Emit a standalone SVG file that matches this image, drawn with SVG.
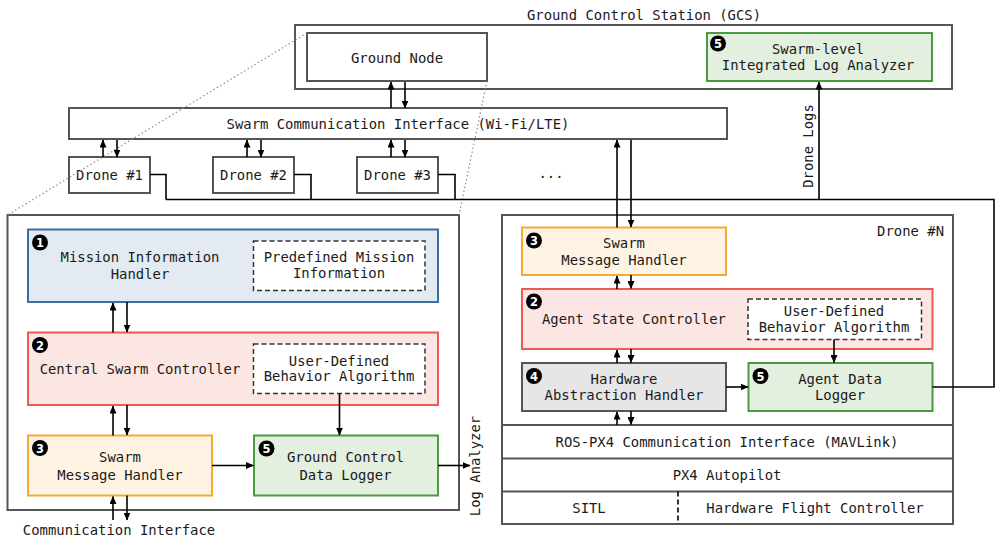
<svg xmlns="http://www.w3.org/2000/svg" width="995" height="541" viewBox="0 0 995 541">
<style>
text{font-family:"DejaVu Sans Mono","Liberation Mono",monospace;font-size:13.9px;fill:#1a1a1a;text-anchor:middle;dominant-baseline:central}
.box{fill:#fff;stroke:#555;stroke-width:2}
.dash{fill:#fff;stroke:#333;stroke-width:1.5;stroke-dasharray:5 3}
.blue{fill:#e3eaf1;stroke:#3b6fa4;stroke-width:2}
.red{fill:#fce6e4;stroke:#ee5a50;stroke-width:2}
.orange{fill:#fff3e3;stroke:#f7a835;stroke-width:2}
.green{fill:#e3efdf;stroke:#4a9a3e;stroke-width:2}
.gray{fill:#e6e6e6;stroke:#555;stroke-width:2}
.ln{fill:none;stroke:#000;stroke-width:1.6}
.arr{fill:none;stroke:#000;stroke-width:1.6;marker-end:url(#ah)}
.dot{fill:none;stroke:#a08585;stroke-width:1.2;stroke-dasharray:1.5 2.5}
.bc{fill:#000}
.bt{fill:#fff;font-family:"DejaVu Sans","Liberation Sans",sans-serif;font-size:11.5px;font-weight:bold}
</style>
<defs>
<marker id="ah" markerWidth="8" markerHeight="7" refX="7.5" refY="3.5" orient="auto" markerUnits="userSpaceOnUse">
<path d="M0,0 L8,3.5 L0,7 z" fill="#000"/>
</marker>
</defs>

<!-- GCS -->
<g id="gcs">
<text x="644" y="15">Ground Control Station (GCS)</text>
<rect class="box" x="295" y="25" width="657" height="64"/>
</g>
<g id="ground-node">
<rect class="box" x="307" y="33" width="180" height="48"/>
<text x="397" y="58">Ground Node</text>
</g>
<g id="log-analyzer">
<rect class="green" x="707" y="33" width="225" height="48"/>
<circle class="bc" cx="718" cy="43.5" r="8"/><text class="bt" x="718" y="44">5</text>
<text x="818" y="49">Swarm-level</text>
<text x="818" y="65">Integrated Log Analyzer</text>
</g>
<g id="swarm-comm">
<rect class="box" x="69" y="108" width="658" height="31"/>
<text x="398" y="124">Swarm Communication Interface (Wi-Fi/LTE)</text>
</g>
<g id="drone1"><rect class="box" x="69" y="157" width="81" height="36"/><text x="109.5" y="175">Drone #1</text></g>
<g id="drone2"><rect class="box" x="213" y="157" width="81" height="36"/><text x="253.5" y="175">Drone #2</text></g>
<g id="drone3"><rect class="box" x="357" y="157" width="81" height="36"/><text x="397.5" y="175">Drone #3</text></g>
<text x="551" y="173">...</text>

<!-- Left detail panel -->
<g id="ground-detail">
<rect class="box" x="7.5" y="215" width="451.5" height="295"/>
</g>
<g id="mission-handler">
<rect class="blue" x="28" y="229.5" width="410" height="72.5"/>
<circle class="bc" cx="40" cy="242.5" r="8"/><text class="bt" x="40" y="243">1</text>
<text x="140" y="257">Mission Information</text>
<text x="140" y="274">Handler</text>
<rect class="dash" x="253.5" y="241" width="171.5" height="49.5"/>
<text x="339" y="257">Predefined Mission</text>
<text x="339" y="273">Information</text>
</g>
<g id="central-controller">
<rect class="red" x="28" y="332.5" width="410" height="72.5"/>
<circle class="bc" cx="40" cy="345" r="8"/><text class="bt" x="40" y="345.5">2</text>
<text x="140" y="369">Central Swarm Controller</text>
<rect class="dash" x="253.5" y="344" width="171.5" height="49.5"/>
<text x="339" y="360.5">User-Defined</text>
<text x="339" y="376">Behavior Algorithm</text>
</g>
<g id="gcs-swarm-msg">
<rect class="orange" x="28" y="435.5" width="184" height="60"/>
<circle class="bc" cx="40" cy="448" r="8"/><text class="bt" x="40" y="448.5">3</text>
<text x="120" y="457">Swarm</text>
<text x="120" y="474.5">Message Handler</text>
</g>
<g id="gc-data-logger">
<rect class="green" x="254" y="435.5" width="184" height="60"/>
<circle class="bc" cx="266.5" cy="448.5" r="8"/><text class="bt" x="266.5" y="449">5</text>
<text x="345.5" y="457">Ground Control</text>
<text x="345.5" y="474.5">Data Logger</text>
</g>
<text x="119" y="530">Communication Interface</text>
<text transform="translate(475,466) rotate(-90)" x="0" y="0">Log Analyzer</text>

<!-- Drone N -->
<g id="droneN">
<rect class="box" x="502" y="215" width="451" height="309"/>
<text x="944" y="231" style="text-anchor:end">Drone #N</text>
<line class="box" x1="502" y1="425" x2="953" y2="425"/>
<line class="box" x1="502" y1="458.5" x2="953" y2="458.5"/>
<line class="box" x1="502" y1="491.5" x2="953" y2="491.5"/>
<line x1="678" y1="491.5" x2="678" y2="524" stroke="#000" stroke-width="1.6" stroke-dasharray="5 3"/>
<text x="727" y="441.5">ROS-PX4 Communication Interface (MAVLink)</text>
<text x="727" y="475">PX4 Autopilot</text>
<text x="589" y="508">SITL</text>
<text x="815" y="508">Hardware Flight Controller</text>
</g>
<g id="droneN-swarm-msg">
<rect class="orange" x="522" y="227.5" width="204" height="47.5"/>
<circle class="bc" cx="534" cy="240.5" r="8"/><text class="bt" x="534" y="241">3</text>
<text x="624" y="243">Swarm</text>
<text x="624" y="260">Message Handler</text>
</g>
<g id="agent-state">
<rect class="red" x="522" y="289" width="410.5" height="60"/>
<circle class="bc" cx="534" cy="301.5" r="8"/><text class="bt" x="534" y="302">2</text>
<text x="634" y="319">Agent State Controller</text>
<rect class="dash" x="748" y="299" width="173.5" height="40.5"/>
<text x="834" y="311">User-Defined</text>
<text x="834" y="327">Behavior Algorithm</text>
</g>
<g id="hw-abstraction">
<rect class="gray" x="522" y="363" width="204" height="48"/>
<circle class="bc" cx="534" cy="376" r="8"/><text class="bt" x="534" y="376.5">4</text>
<text x="624" y="379">Hardware</text>
<text x="624" y="395">Abstraction Handler</text>
</g>
<g id="agent-logger">
<rect class="green" x="748.5" y="363" width="184" height="48"/>
<circle class="bc" cx="760.5" cy="376" r="8"/><text class="bt" x="760.5" y="376.5">5</text>
<text x="840" y="379">Agent Data</text>
<text x="840" y="395">Logger</text>
</g>
<text transform="translate(808,146) rotate(-90)" x="0" y="0">Drone Logs</text>

<!-- Connectors -->
<g id="connectors">
<path class="dot" d="M307,33 L7.5,215"/>
<path class="dot" d="M487,81 L459,215"/>
<path class="arr" d="M391,108 V82"/>
<path class="arr" d="M405,82 V108"/>
<path class="arr" d="M103,157 V140"/>
<path class="arr" d="M117,140 V157"/>
<path class="arr" d="M247,157 V140"/>
<path class="arr" d="M261,140 V157"/>
<path class="arr" d="M391,157 V140"/>
<path class="arr" d="M405,140 V157"/>
<path class="ln" d="M150,174.5 H166 V199.5"/>
<path class="ln" d="M294,174.5 H311 V199.5"/>
<path class="ln" d="M438,174.5 H455 V199.5"/>
<path class="ln" d="M166,199.5 H994 V387 H932.5"/>
<path class="arr" d="M819,199.5 V82"/>
<path class="arr" d="M617,227.5 V140"/>
<path class="arr" d="M631,140 V227"/>
<path class="arr" d="M617,289 V276"/>
<path class="arr" d="M631,275 V288.5"/>
<path class="arr" d="M617,363 V350"/>
<path class="arr" d="M631,349 V362.5"/>
<path class="arr" d="M834,339.5 V362.5"/>
<path class="arr" d="M726,387 H748"/>
<path class="arr" d="M617,425 V412"/>
<path class="arr" d="M631,411 V424.5"/>
<path class="arr" d="M113,332.5 V303"/>
<path class="arr" d="M127,302 V332"/>
<path class="arr" d="M113,435.5 V406"/>
<path class="arr" d="M127,405 V435"/>
<path class="arr" d="M339.5,393.5 V435"/>
<path class="arr" d="M212,465.5 H253.5"/>
<path class="arr" d="M438,465.5 H470"/>
<path class="arr" d="M113,520 V496.5"/>
<path class="arr" d="M127,495.5 V520"/>
</g>
</svg>
